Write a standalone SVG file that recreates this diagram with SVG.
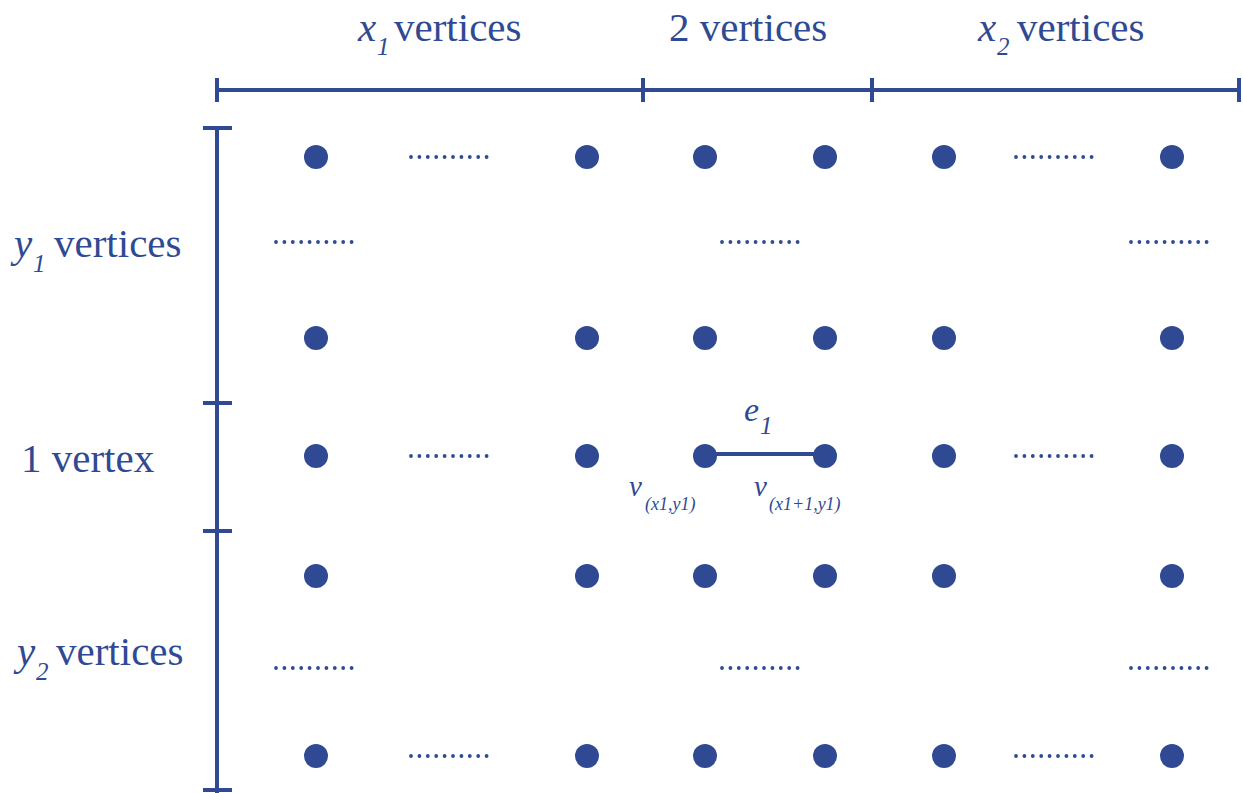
<svg xmlns="http://www.w3.org/2000/svg" width="1243" height="793" viewBox="0 0 1243 793">
<defs>
<style>
.ax{stroke:#2f4a93;stroke-width:4;fill:none}
.v{fill:#2f4a93}
.t{font-family:"Liberation Serif","Times New Roman",serif;fill:#2f4a93;font-size:41px}
.i{font-style:italic}
.s{font-size:25px;font-style:italic}
.ss{font-size:18px;font-style:italic}
</style>
<circle id="d" r="1.9" class="v"/>
<g id="ell">
<use href="#d" x="0"/><use href="#d" x="8.4"/><use href="#d" x="16.8"/><use href="#d" x="25.2"/><use href="#d" x="33.6"/><use href="#d" x="42"/><use href="#d" x="50.4"/><use href="#d" x="58.8"/><use href="#d" x="67.2"/><use href="#d" x="75.6"/>
</g>
</defs>
<rect width="1243" height="793" fill="#fff"/>
<g id="axes" class="ax">
<line x1="217" y1="90" x2="1240" y2="90"/>
<line x1="217" y1="78" x2="217" y2="102"/>
<line x1="643" y1="78" x2="643" y2="102"/>
<line x1="872" y1="78" x2="872" y2="102"/>
<line x1="1239" y1="78" x2="1239" y2="102"/>
<line x1="217" y1="128" x2="217" y2="793"/>
<line x1="203" y1="128" x2="232" y2="128"/>
<line x1="203" y1="403" x2="232" y2="403"/>
<line x1="203" y1="531" x2="232" y2="531"/>
<line x1="203" y1="790" x2="232" y2="790"/>
</g>
<g id="labels" class="t">
<text x="358" y="41" class="i">x</text><text x="377" y="55" class="s">1</text><text x="394" y="41">vertices</text>
<text x="669" y="41">2 vertices</text>
<text x="978" y="41" class="i">x</text><text x="997" y="55" class="s">2</text><text x="1017" y="41">vertices</text>
<text x="14" y="257" class="i">y</text><text x="33" y="272" class="s">1</text><text x="54" y="257">vertices</text>
<text x="21" y="472">1 vertex</text>
<text x="17" y="665" class="i">y</text><text x="36" y="680" class="s">2</text><text x="56" y="665">vertices</text>
</g>
<g id="connectors">
<line x1="705" y1="454" x2="825" y2="454" class="ax"/>
</g>
<g id="edge-label" class="t">
<text x="744" y="421" class="i" style="font-size:34px">e</text><text x="760" y="434" class="s">1</text>
</g>
<g id="vertex-labels" class="t">
<text x="629" y="496" class="i" style="font-size:29px">v</text><text x="645" y="510" class="ss">(x1,y1)</text>
<text x="754" y="496" class="i" style="font-size:29px">v</text><text x="769" y="510" class="ss">(x1+1,y1)</text>
</g>
<g id="vertices" class="v">
<g id="row1"><circle cx="316" cy="157" r="12"/><circle cx="587" cy="157" r="12"/><circle cx="705" cy="157" r="12"/><circle cx="825" cy="157" r="12"/><circle cx="944" cy="157" r="12"/><circle cx="1172" cy="157" r="12"/></g>
<g id="row2"><circle cx="316" cy="338" r="12"/><circle cx="587" cy="338" r="12"/><circle cx="705" cy="338" r="12"/><circle cx="825" cy="338" r="12"/><circle cx="944" cy="338" r="12"/><circle cx="1172" cy="338" r="12"/></g>
<g id="row3"><circle cx="316" cy="456" r="12"/><circle cx="587" cy="456" r="12"/><circle id="v_x1y1" cx="705" cy="456" r="12"/><circle id="v_x1p1y1" cx="825" cy="456" r="12"/><circle cx="944" cy="456" r="12"/><circle cx="1172" cy="456" r="12"/></g>
<g id="row4"><circle cx="316" cy="576" r="12"/><circle cx="587" cy="576" r="12"/><circle cx="705" cy="576" r="12"/><circle cx="825" cy="576" r="12"/><circle cx="944" cy="576" r="12"/><circle cx="1172" cy="576" r="12"/></g>
<g id="row5"><circle cx="316" cy="756" r="12"/><circle cx="587" cy="756" r="12"/><circle cx="705" cy="756" r="12"/><circle cx="825" cy="756" r="12"/><circle cx="944" cy="756" r="12"/><circle cx="1172" cy="756" r="12"/></g>
</g>
<g id="ellipses">
<use href="#ell" x="411" y="157"/><use href="#ell" x="1016" y="157"/>
<use href="#ell" x="276" y="242"/><use href="#ell" x="722" y="242"/><use href="#ell" x="1131" y="242"/>
<use href="#ell" x="411" y="456"/><use href="#ell" x="1016" y="456"/>
<use href="#ell" x="276" y="668"/><use href="#ell" x="722" y="668"/><use href="#ell" x="1131" y="668"/>
<use href="#ell" x="411" y="756"/><use href="#ell" x="1016" y="756"/>
</g>
</svg>
